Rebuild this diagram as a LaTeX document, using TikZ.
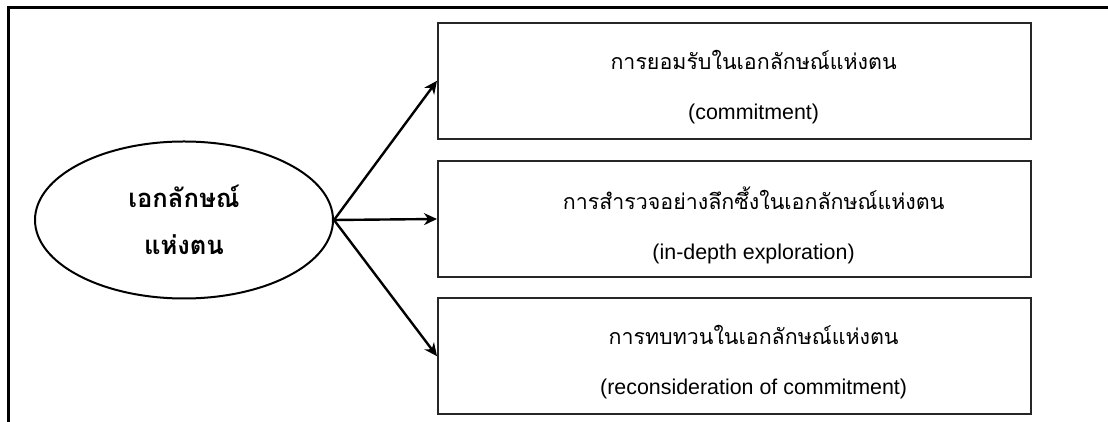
\documentclass[tikz,border=0pt]{standalone}
\usepackage{fontspec}
\setmainfont{Liberation Sans}
\newfontfamily\thaifont[Script=Thai]{Loma}
\usetikzlibrary{positioning,shapes,arrows.meta}

\begin{document}
\begin{tikzpicture}[
      node distance=10pt and 51.5pt,
      concept/.style={ellipse, draw=black, line width=1pt, inner sep=0pt,
                      minimum width=149pt, minimum height=78.5pt,
                      align=center, font=\thaifont\bfseries\fontsize{12.8}{23.5}\selectfont},
      facet/.style={rectangle, draw=black!85, line width=1.1pt, inner sep=0pt,
                    minimum width=296.5pt, minimum height=58pt},
      facetlabel/.style={align=center, xshift=9.5pt, yshift=-3pt,
                         font=\fontsize{10.7}{25}\selectfont},
      arrow/.style={-{Stealth[length=6.5pt,width=6pt]}, line width=1.2pt},
      frame/.style={line width=1.5pt}
    ]
    \useasboundingbox (0,0) rectangle (554pt,211pt);
    \coordinate (fbl) at (4pt,-1pt);
    \coordinate (ftl) at (4pt,207pt);
    \coordinate (ftr) at (555pt,207pt);
    \draw[frame] (fbl) -- (ftl) -- (ftr);

    \node[concept] (self) at (92pt,101pt) {เอกลักษณ์\\แห่งตน};
    \node[facet, right=of self, yshift=0.5pt,
          label={[facetlabel]center:{{\thaifont การสำรวจอย่างลึกซึ้งในเอกลักษณ์แห่งตน}\\(in-depth exploration)}}]
          (explore) {};
    \node[facet, above=of explore,
          label={[facetlabel]center:{{\thaifont การยอมรับในเอกลักษณ์แห่งตน}\\(commitment)}}]
          (commit) {};
    \node[facet, below=9.5pt of explore,
          label={[facetlabel]center:{{\thaifont การทบทวนในเอกลักษณ์แห่งตน}\\(reconsideration of commitment)}}]
          (recon) {};

    \draw[arrow] (self.east) -- (commit.west);
    \draw[arrow] (self.east) -- (explore.west);
    \draw[arrow] (self.east) -- (recon.west);
  \end{tikzpicture}
\end{document}
